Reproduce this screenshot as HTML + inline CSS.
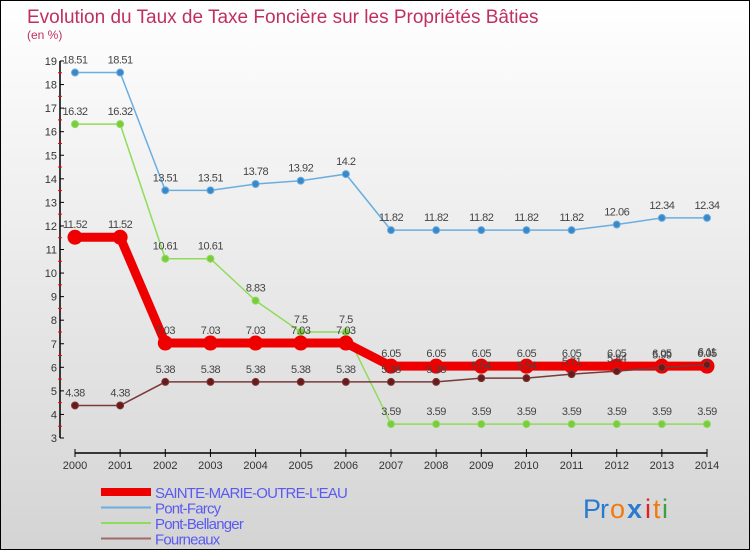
<!DOCTYPE html>
<html><head><meta charset="utf-8"><style>
body{margin:0}
#c{width:748px;height:548px;border:1px solid #000;background:linear-gradient(#fff,#d4d4d4);position:relative;overflow:hidden;font-family:"Liberation Sans",sans-serif}
</style></head><body>
<div id="c">
<svg id="s" width="748" height="548" xmlns="http://www.w3.org/2000/svg"></svg>
</div>
<script>
const years=[2000,2001,2002,2003,2004,2005,2006,2007,2008,2009,2010,2011,2012,2013,2014];
const sainte=[11.52,11.52,7.03,7.03,7.03,7.03,7.03,6.05,6.05,6.05,6.05,6.05,6.05,6.05,6.05];
const farcy=[18.51,18.51,13.51,13.51,13.78,13.92,14.2,11.82,11.82,11.82,11.82,11.82,12.06,12.34,12.34];
const bellanger=[16.32,16.32,10.61,10.61,8.83,7.5,7.5,3.59,3.59,3.59,3.59,3.59,3.59,3.59,3.59];
const fourneaux=[4.38,4.38,5.38,5.38,5.38,5.38,5.38,5.38,5.38,5.54,5.54,5.71,5.84,5.99,6.11];
const yTicks=[3,4,5,6,7,8,9,10,11,12,13,14,15,16,17,18,19];
const s=document.getElementById('s');const NS='http://www.w3.org/2000/svg';
function X(i){return 74+i*(632/14);}
function Y(v){return 437-(v-3)*(377/16);}
function el(t,a,p){const e=document.createElementNS(NS,t);for(const k in a)e.setAttribute(k,a[k]);(p||s).appendChild(e);return e;}
function txt(x,y,str,a){const e=el('text',Object.assign({x:x,y:y},a));e.textContent=str;return e;}
let t=txt(26,22,'Evolution du Taux de Taxe Foncière sur les Propriétés Bâties',{'font-size':19,fill:'#c0305e'});

t=txt(26,38,'(en %)',{'font-size':12,fill:'#c0305e'});

let a=el('line',{x1:59,y1:Y(19),x2:59,y2:Y(3),stroke:'#000','stroke-width':1.5});

yTicks.forEach(v=>{el('line',{x1:59,y1:Y(v),x2:63,y2:Y(v),stroke:'#000'});
 if(v<19)el('line',{x1:57,y1:Y(v+0.5),x2:61,y2:Y(v+0.5),stroke:'red'});
 let l=txt(56,Y(v)+4,String(v),{'font-size':11,fill:'#333','text-anchor':'end'});
 });
a=el('line',{x1:X(0),y1:452,x2:X(14),y2:452,stroke:'#000','stroke-width':1.5});

years.forEach((y,i)=>{el('line',{x1:X(i),y1:448,x2:X(i),y2:456,stroke:'#000'});
 let l=txt(X(i),468,String(y),{'font-size':11,fill:'#333','text-anchor':'middle'});
 });
function series(vals,color,w,r,dot,name){
 const g=el('g',{});
 el('polyline',{points:vals.map((v,i)=>X(i)+','+Y(v)).join(' '),fill:'none',stroke:color,'stroke-width':w},g);
 vals.forEach((v,i)=>{const c=el('circle',{cx:X(i),cy:Y(v),r:r,fill:dot,stroke:color,'stroke-width':1},g);
  
  txt(X(i),Y(v)-9,String(v),{'font-size':11,fill:'#444','text-anchor':'middle','letter-spacing':'-0.5'},g);});
}
series(farcy,'#6aaee0',1.5,3.5,'#3a88c8','series-pont-farcy');
series(bellanger,'#8fdc5a',1.5,3.5,'#7acb3e','series-pont-bellanger');
series(sainte,'#ee0000',9,7,'#ee0000','series-sainte-marie');
series(fourneaux,'#7a3a3a',1.5,3.5,'#6a1a1a','series-fourneaux');
const leg=[['SAINTE-MARIE-OUTRE-L\'EAU','#ee0000',8],['Pont-Farcy','#6aaee0',2],['Pont-Bellanger','#8fdc5a',2],['Fourneaux','#a06a6a',2]];
leg.forEach((l,i)=>{const g=el('g',{});
 const y=491+i*15.5;el('line',{x1:100,y1:y,x2:150,y2:y,stroke:l[1],'stroke-width':l[2]},g);
 txt(154,y+6,l[0],{'font-size':15,fill:'#5a5af0','letter-spacing':'-0.8'},g);});
const lg=el('g',{});
[['P','#2a7ad0'],['r','#2a7ad0'],['o','#f07a10'],['x','#2a7ad0'],['i','#e02020'],['t','#f07a10'],['i','#40a040']].forEach((c,i)=>{
 txt(582+[0,17,27,44,62,70,79][i],517,c[0],{'font-size':27,'font-weight':i==3?'bold':'normal',fill:c[1]},lg);});
</script>
</body></html>
